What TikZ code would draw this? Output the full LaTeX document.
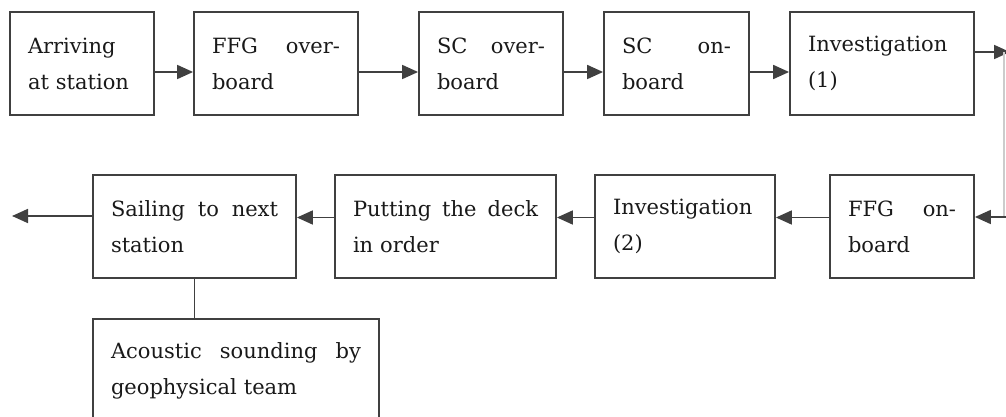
\documentclass[tikz,border=0pt]{standalone}
\usepackage{fontspec}
\setmainfont{DejaVu Serif}
\usetikzlibrary{arrows.meta, positioning, calc}

\begin{document}
\begin{tikzpicture}[
    x=0.5pt, y=-0.5pt,
    stagebox/.style={rectangle, draw=black!75, line width=0.9pt, minimum height=51.5pt,
        inner xsep=9pt, inner ysep=0pt, align=left, text=black!90,
        font=\fontsize{10.5}{18}\selectfont},
    flow/.style={draw=black!75, line width=0.9pt, -{Triangle[length=8pt, width=7pt]}},
    link/.style={draw=black!75, line width=0.9pt},
    faint/.style={draw=black!20, line width=0.6pt}
]
\path[use as bounding box, clip] (0,0) rectangle (1006,417);

% Stages of the station work - upper row
\node[stagebox, text width=54pt] (arrive) at (82,63.5) {Arriving\\at station};
\node[stagebox, text width=64pt] (ffgover) at (276,63.5) {FFG\hfill over-\\board};
\node[stagebox, text width=54pt] (scover) at (491,63.5) {SC\hfill over-\\board};
\node[stagebox, text width=54.5pt] (scon) at (676.5,63.5) {SC\hfill on-\\board};
\node[stagebox, text width=74pt] (inv1) at (882,63.5) {Investigation\\(1)};

% Lower row, running right to left
\node[stagebox, text width=54pt] (ffgon) at (902,226.5) {FFG\hfill on-\\board};
\node[stagebox, text width=72pt] (inv2) at (685,226.5) {Investigation\\(2)};
\node[stagebox, text width=92.5pt] (deck) at (445.5,226.5) {Putting\hfill the\hfill deck\\in order};
\node[stagebox, text width=83.5pt] (sail) at (194.5,226.5) {Sailing\hfill to\hfill next\\station};
\node[stagebox, text width=125pt] (sound) at (236,370.5) {Acoustic\hfill sounding\hfill by\\geophysical team};

% Free ends at the page edges
\coordinate (exitR) at (1010,52);
\coordinate (turnA) at (1004,52);
\coordinate (turnB) at (1004,217);
\coordinate (entryR) at (1010,217);
\coordinate (exitL) at (12,216);

% Connectors
\foreach \a/\b in {arrive/ffgover, ffgover/scover, scover/scon, scon/inv1}
    \draw[flow] ([yshift=-4.25pt]\a.east) -- ([yshift=-4.25pt]\b.west);
\draw[flow] ([yshift=5.75pt]inv1.east) -- (exitR);
\draw[faint] (turnA) -- (turnB);
\draw[flow] (entryR) -- ([yshift=4.75pt]ffgon.east);
\foreach \a/\b in {ffgon/inv2, inv2/deck, deck/sail}
    \draw[flow] ([yshift=4.5pt]\a.west) -- ([yshift=4.5pt]\b.east);
\draw[flow] ([yshift=5.25pt]sail.west) -- (exitL);
\draw[link] (sail.south) -- (sail.south |- sound.north);

\end{tikzpicture}
\end{document}
